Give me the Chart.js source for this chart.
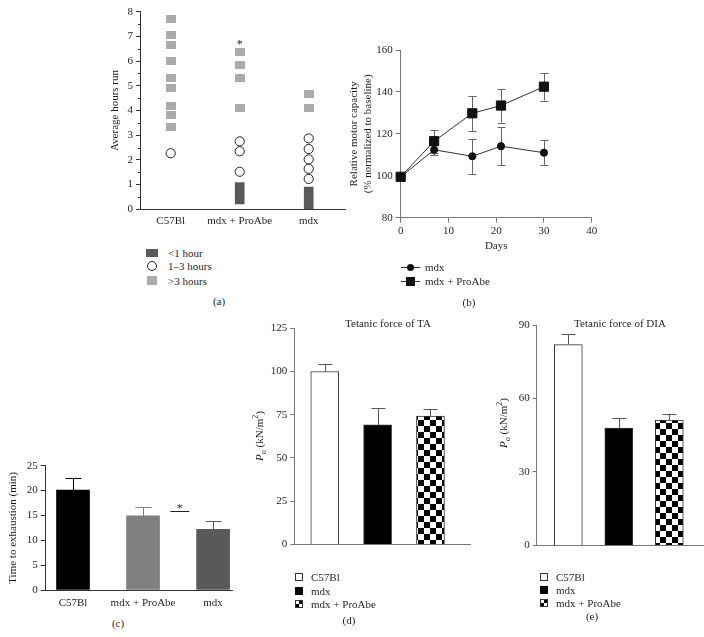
<!DOCTYPE html>
<html>
<head>
<meta charset="utf-8">
<title>ProAbe running and force</title>
<script src="https://cdn.jsdelivr.net/npm/chart.js@4.4.1/dist/chart.umd.min.js"></script>
<style>
  body { margin: 0; width: 704px; height: 637px; position: relative; overflow: hidden; background: #fff;
         font-family: "Liberation Serif", "DejaVu Serif", serif; font-size: 11px; color: #231f20; }
  canvas { position: absolute; }
  .t { position: absolute; white-space: nowrap; line-height: 12px; }
  .c { transform: translateX(-50%); }
  .box { position: absolute; box-sizing: border-box; }
  .rot { position: absolute; white-space: nowrap; line-height: 12px; transform: translate(-50%, -50%) rotate(-90deg); }
  sub, sup { font-size: 8px; line-height: 0; }
  .chk { background: repeating-conic-gradient(#000 0% 25%, #fff 0% 50%) 0 0 / 6px 6px; }
</style>
</head>
<body>
<canvas id="chartA" width="360" height="232" style="left:0;top:0"></canvas>
<canvas id="chartB" width="260" height="220" style="left:345px;top:40px"></canvas>
<canvas id="chartC" width="240" height="160" style="left:0;top:455px"></canvas>
<canvas id="chartD" width="210" height="236" style="left:268px;top:318px"></canvas>
<canvas id="chartE" width="194" height="240" style="left:510px;top:315px"></canvas>

<!-- legend (a) -->
<div class="box" style="left:146px;top:249px;width:12px;height:8px;background:#5a5a5a"></div>
<div class="t" style="left:168px;top:247px">&lt;1 hour</div>
<div class="box" style="left:147px;top:261px;width:10px;height:10px;border:1px solid #231f20;border-radius:50%"></div>
<div class="t" style="left:168px;top:260px">1–3 hours</div>
<div class="box" style="left:147px;top:276px;width:10px;height:9px;background:#ababab"></div>
<div class="t" style="left:168px;top:275px">&gt;3 hours</div>
<div class="t c" style="left:219px;top:295px">(a)</div>

<!-- legend (b) -->
<div class="box" style="left:401px;top:267px;width:19px;height:1px;background:#333"></div>
<div class="box" style="left:406.5px;top:264px;width:7px;height:7px;border-radius:50%;background:#111"></div>
<div class="t" style="left:425px;top:261px">mdx</div>
<div class="box" style="left:401px;top:281px;width:19px;height:1px;background:#333"></div>
<div class="box" style="left:405.5px;top:277px;width:9px;height:9px;background:#111"></div>
<div class="t" style="left:425px;top:275px">mdx + ProAbe</div>
<div class="t c" style="left:469px;top:296px">(b)</div>

<div class="t c" style="left:118px;top:617px">(c)</div>

<!-- (d) -->
<div class="t c" style="left:388px;top:317px">Tetanic force of TA</div>
<div class="rot" style="left:259px;top:436px"><i>P<sub>o</sub></i> (kN/m<sup>2</sup>)</div>
<div class="box" style="left:295px;top:573px;width:8px;height:8px;border:1px solid #333;background:#fff"></div>
<div class="t" style="left:311px;top:571px">C57Bl</div>
<div class="box" style="left:295px;top:587px;width:8px;height:8px;background:#000"></div>
<div class="t" style="left:311px;top:585px">mdx</div>
<div class="box chk" style="left:295px;top:600px;width:8px;height:8px;border:1px solid #333"></div>
<div class="t" style="left:311px;top:598px">mdx + ProAbe</div>
<div class="t c" style="left:349px;top:614px">(d)</div>

<!-- (e) -->
<div class="t c" style="left:620px;top:317px">Tetanic force of DIA</div>
<div class="rot" style="left:503px;top:423px"><i>P<sub>o</sub></i> (kN/m<sup>2</sup>)</div>
<div class="box" style="left:540px;top:573px;width:8px;height:8px;border:1px solid #333;background:#fff"></div>
<div class="t" style="left:556px;top:571px">C57Bl</div>
<div class="box" style="left:540px;top:586px;width:8px;height:8px;background:#000"></div>
<div class="t" style="left:556px;top:584px">mdx</div>
<div class="box chk" style="left:540px;top:599px;width:8px;height:8px;border:1px solid #333"></div>
<div class="t" style="left:556px;top:597px">mdx + ProAbe</div>
<div class="t c" style="left:592px;top:610px">(e)</div>

<script>
// (a) voluntary running, one point per mouse
const runGroups = ['C57Bl', 'mdx + ProAbe', 'mdx'];
const runOver3h = [[7.7, 7.05, 6.65, 6.0, 5.3, 4.9, 4.2, 3.8, 3.35], [6.35, 5.85, 5.3, 4.1], [4.65, 4.1]];
const run1to3h = [[2.27], [2.75, 2.35, 1.52], [2.87, 2.44, 2.02, 1.64, 1.23]];
const runUnder1h = [null, [0.22, 1.08], [0, 0.9]];
const runSignif = [null, 6.79, null];

// (b) motor capacity over time
const days = [0, 7, 15, 21, 30];
const motorMdx = [99.5, 112.4, 109.3, 114.1, 111.0];
const motorMdxErr = [0, 2.5, 8.4, 9.1, 6.0];
const motorProAbe = [99.5, 116.5, 129.8, 133.5, 142.5];
const motorProAbeErr = [0, 5.5, 8.4, 8.1, 6.6];

// (c) treadmill
const exhaustGroups = ['C57Bl', 'mdx + ProAbe', 'mdx'];
const exhaustTime = [20.1, 14.9, 12.2];
const exhaustErr = [2.5, 1.7, 1.7];
const exhaustSignif = [1.39, 1.66, 15.9]; // from, to, height

// (d), (e) tetanic force
const forceGroups = ['C57Bl', 'mdx', 'mdx + ProAbe'];
const forceTA = [100, 69.2, 74.2];
const forceTAErr = [4.5, 9.8, 4.2];
const forceDIA = [82.0, 47.9, 51.2];
const forceDIAErr = [4.4, 4.1, 2.4];

Chart.defaults.font.family = '"Liberation Serif", "DejaVu Serif", serif';
Chart.defaults.font.size = 11;
Chart.defaults.color = '#231f20';
Chart.defaults.animation = false;
Chart.defaults.events = [];
Chart.defaults.plugins.legend.display = false;
Chart.defaults.plugins.tooltip.enabled = false;

const groupPoints = groups => groups.flatMap((vals, i) => vals.map(v => ({ x: i, y: v })));

function yAxis(min, max, step, width, color, tick, title) {
    return {
        min: min, max: max, position: 'left',
        ticks: { stepSize: step, padding: 3 },
        grid: { drawOnChartArea: false, tickLength: tick, color: color },
        border: { color: color },
        title: title ? { display: true, text: title, padding: 0 } : { display: false },
        afterFit: s => { s.width = width; }
    };
}

function groupAxis(min, max, labels, height, color, pad) {
    return {
        type: 'linear', min: min, max: max, offset: false,
        grid: { display: false, drawTicks: false, offset: false },
        border: { color: color },
        ticks: { display: !!labels, padding: pad || 5, autoSkip: false, maxRotation: 0,
                 callback: v => labels ? labels[v] : '' },
        afterBuildTicks: s => { s.ticks = [0, 1, 2].map(v => ({ value: v })); },
        afterFit: s => { s.height = height; }
    };
}

// error bars from dataset.errors, drawn on the chart's own y scale
function errorBars(color, capHalf, bothWays, behind) {
    const draw = chart => {
        const ctx = chart.ctx, ys = chart.scales.y;
        ctx.save();
        ctx.lineWidth = 1;
        chart.data.datasets.forEach((ds, di) => {
            if (!ds.errors) return;
            chart.getDatasetMeta(di).data.forEach((el, j) => {
                const e = ds.errors[j];
                if (!e) return;
                const v = ds.data[j].y;
                const x = Math.round(el.x) + 0.5;
                const top = Math.round(ys.getPixelForValue(v + e)) + 0.5;
                const bot = ys.getPixelForValue(bothWays ? v - e : v);
                ctx.strokeStyle = Array.isArray(ds.errorColor) ? ds.errorColor[j] : (ds.errorColor || color);
                ctx.beginPath();
                ctx.moveTo(x, bot); ctx.lineTo(x, top);
                ctx.moveTo(x - capHalf, top); ctx.lineTo(x + capHalf, top);
                if (bothWays) {
                    const b = Math.round(bot) + 0.5;
                    ctx.moveTo(x - capHalf, b); ctx.lineTo(x + capHalf, b);
                }
                ctx.stroke();
            });
        });
        ctx.restore();
    };
    return behind ? { id: 'errorBars', beforeDatasetsDraw: draw } : { id: 'errorBars', afterDatasetsDraw: draw };
}

function sigMarks(stars, bracket) {
    return {
        id: 'sigMarks',
        afterDatasetsDraw(chart) {
            const ctx = chart.ctx, xs = chart.scales.x, ys = chart.scales.y;
            ctx.save();
            ctx.fillStyle = ctx.strokeStyle = '#231f20';
            ctx.font = '12px "Liberation Serif", serif';
            ctx.textAlign = 'center';
            ctx.textBaseline = 'alphabetic';
            stars.forEach((v, i) => {
                if (v != null) ctx.fillText('*', xs.getPixelForValue(i), ys.getPixelForValue(v) + 6);
            });
            if (bracket) {
                const y = Math.round(ys.getPixelForValue(bracket[2])) + 0.5;
                const x1 = xs.getPixelForValue(bracket[0]), x2 = xs.getPixelForValue(bracket[1]);
                ctx.beginPath(); ctx.moveTo(x1, y); ctx.lineTo(x2, y); ctx.lineWidth = 1; ctx.stroke();
                ctx.fillText('*', (x1 + x2) / 2, y);
            }
            ctx.restore();
        }
    };
}

// short unlabeled ticks halfway between the labelled ones
function minorTicks(step, len, color) {
    return {
        id: 'minorTicks',
        afterDraw(chart) {
            const ctx = chart.ctx, ys = chart.scales.y, left = chart.chartArea.left;
            ctx.save();
            ctx.strokeStyle = color; ctx.lineWidth = 1;
            ctx.beginPath();
            for (let v = ys.min + step / 2; v < ys.max; v += step) {
                const y = Math.round(ys.getPixelForValue(v)) + 0.5;
                ctx.moveTo(left - len, y); ctx.lineTo(left, y);
            }
            ctx.stroke();
            ctx.restore();
        }
    };
}

// grey rectangle marker for >3 hours
const greyRect = document.createElement('canvas');
greyRect.width = 10; greyRect.height = 8;
(function () { const g = greyRect.getContext('2d'); g.fillStyle = '#ababab'; g.fillRect(0, 0, 10, 8); })();

// checkered fill
function checker(ctx, size) {
    const c = document.createElement('canvas');
    c.width = c.height = size * 2;
    const g = c.getContext('2d');
    g.fillStyle = '#fff'; g.fillRect(0, 0, size * 2, size * 2);
    g.fillStyle = '#000'; g.fillRect(0, 0, size, size); g.fillRect(size, size, size, size);
    return ctx.createPattern(c, 'repeat');
}

// (a)
new Chart(document.getElementById('chartA'), {
    type: 'bar',
    data: {
        datasets: [
            { type: 'line', data: groupPoints(runOver3h), showLine: false, pointStyle: greyRect, pointRadius: 5 },
            { type: 'line', data: groupPoints(run1to3h), showLine: false, pointStyle: 'circle', pointRadius: 4.6,
              pointBackgroundColor: '#fff', pointBorderColor: '#231f20', pointBorderWidth: 1 },
            { data: runUnder1h.map((r, i) => r ? { x: i, y: r } : null).filter(Boolean),
              backgroundColor: '#5a5a5a', barThickness: 9 }
        ]
    },
    options: {
        responsive: false,
        layout: { padding: { left: 108.5, top: 11.7, right: 15, bottom: 0 } },
        scales: {
            x: groupAxis(-0.445, 2.526, runGroups, 22.7, '#333'),
            y: yAxis(0, 8, 1, 31.5, '#333', 4, 'Average hours run')
        }
    },
    plugins: [sigMarks(runSignif, null), minorTicks(1, 2, '#333')]
});

// (b)
new Chart(document.getElementById('chartB'), {
    type: 'line',
    data: {
        datasets: [
            { data: days.map((d, i) => ({ x: d, y: motorMdx[i] })), errors: motorMdxErr,
              borderColor: '#333', borderWidth: 1, pointStyle: 'circle', pointRadius: 3.6,
              pointBackgroundColor: '#111', pointBorderColor: '#111', clip: false },
            { data: days.map((d, i) => ({ x: d, y: motorProAbe[i] })), errors: motorProAbeErr,
              borderColor: '#333', borderWidth: 1, pointStyle: 'rect', pointRadius: 6.5,
              pointBackgroundColor: '#111', pointBorderColor: '#111', clip: false }
        ]
    },
    options: {
        responsive: false,
        layout: { padding: { left: 3, top: 10, right: 13.3, bottom: 0 } },
        scales: {
            x: {
                type: 'linear', min: 0, max: 40,
                ticks: { stepSize: 10, padding: 2 },
                grid: { drawOnChartArea: false, tickLength: 5, color: '#777' },
                border: { color: '#777' },
                title: { display: true, text: 'Days', padding: { top: 0, bottom: 7 } },
                afterFit: s => { s.height = 42.3; }
            },
            y: yAxis(80, 160, 20, 52.7, '#777', 5, ['Relative motor capacity', '(% normalized to baseline)'])
        }
    },
    plugins: [errorBars('#666', 4, true, true)]
});

// (c)
new Chart(document.getElementById('chartC'), {
    type: 'bar',
    data: {
        datasets: [{
            data: exhaustGroups.map((g, i) => ({ x: i, y: exhaustTime[i] })),
            errors: exhaustErr,
            backgroundColor: ['#000', '#808080', '#595959'],
            errorColor: ['#000', '#808080', '#595959'],
            barThickness: 33
        }]
    },
    options: {
        responsive: false,
        layout: { padding: { left: 7, top: 10.7, right: 8, bottom: 0 } },
        scales: {
            x: groupAxis(-0.39, 2.27, exhaustGroups, 25, '#333', 7),
            y: yAxis(0, 25, 5, 38.7, '#333', 5, 'Time to exhaustion (min)')
        }
    },
    plugins: [errorBars('#000', 8, false, false), sigMarks([], exhaustSignif)]
});

// (d)
const ctxD = document.getElementById('chartD').getContext('2d');
new Chart(ctxD, {
    type: 'bar',
    data: {
        datasets: [{
            data: forceGroups.map((g, i) => ({ x: i, y: forceTA[i] })),
            errors: forceTAErr,
            backgroundColor: ['#fff', '#000', checker(ctxD, 6)],
            borderColor: '#333', borderWidth: 1, barThickness: 28
        }]
    },
    options: {
        responsive: false,
        layout: { padding: { left: 0, top: 10.3, right: 8, bottom: 6.7 } },
        scales: {
            x: groupAxis(-0.576, 2.748, null, 0, '#777'),
            y: yAxis(0, 125, 25, 26.3, '#777', 4, null)
        }
    },
    plugins: [errorBars('#555', 7, false, false)]
});

// (e)
const ctxE = document.getElementById('chartE').getContext('2d');
new Chart(ctxE, {
    type: 'bar',
    data: {
        datasets: [{
            data: forceGroups.map((g, i) => ({ x: i, y: forceDIA[i] })),
            errors: forceDIAErr,
            backgroundColor: ['#fff', '#000', checker(ctxE, 6)],
            borderColor: '#333', borderWidth: 1, barThickness: 28
        }]
    },
    options: {
        responsive: false,
        layout: { padding: { left: 0, top: 10, right: 0, bottom: 5.7 } },
        scales: {
            x: groupAxis(-0.626, 2.687, null, 0, '#777'),
            y: yAxis(0, 90, 30, 26.7, '#777', 4, null)
        }
    },
    plugins: [errorBars('#555', 7, false, false)]
});
</script>
</body>
</html>
